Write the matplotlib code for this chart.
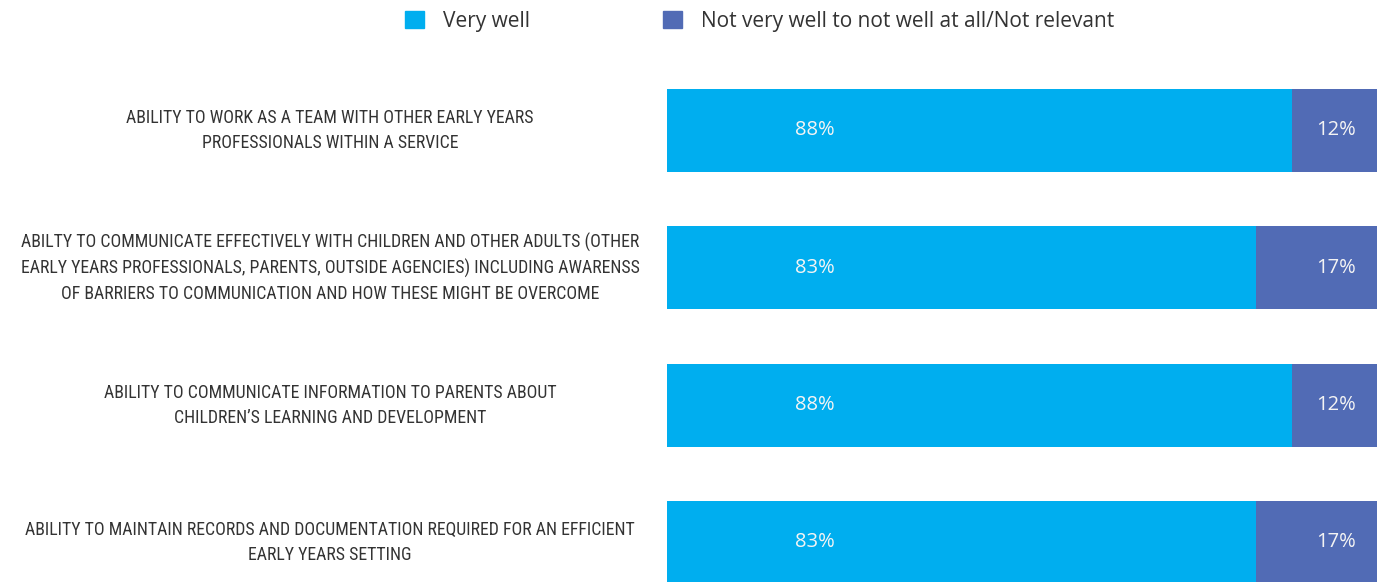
import matplotlib.pyplot as plt
from matplotlib.patches import Patch
from matplotlib.transforms import blended_transform_factory

categories = [
    "ABILITY TO WORK AS A TEAM WITH OTHER EARLY YEARS\nPROFESSIONALS WITHIN A SERVICE",
    "ABILTY TO COMMUNICATE EFFECTIVELY WITH CHILDREN AND OTHER ADULTS (OTHER\n"
    "EARLY YEARS PROFESSIONALS, PARENTS, OUTSIDE AGENCIES) INCLUDING AWARENSS\n"
    "OF BARRIERS TO COMMUNICATION AND HOW THESE MIGHT BE OVERCOME",
    "ABILITY TO COMMUNICATE INFORMATION TO PARENTS ABOUT\nCHILDREN\u2019S LEARNING AND DEVELOPMENT",
    "ABILITY TO MAINTAIN RECORDS AND DOCUMENTATION REQUIRED FOR AN EFFICIENT\nEARLY YEARS SETTING",
]
very_well = [88, 83, 88, 83]
not_well = [12, 17, 12, 17]
series_names = ["Very well", "Not very well to not well at all/Not relevant"]

c_light = "#00AEEF"
c_dark = "#516BB5"

W, H = 1381, 582
fig = plt.figure(figsize=(W / 100, H / 100), dpi=100)
ax = fig.add_axes([667 / W, 0, 710 / W, 1])

y = list(range(len(categories)))
ax.barh(y, very_well, height=0.605, color=c_light)
ax.barh(y, not_well, left=very_well, height=0.605, color=c_dark)

ax.set_xlim(0, 100)
ax.set_ylim(3.288, -0.950)
ax.axis("off")

val_font = dict(family=["Open Sans", "DejaVu Sans"], fontsize=14.5, color="#F4F4F4",
                ha="center", va="center")
for i in y:
    ax.text(20.8, i, f"{very_well[i]}%", **val_font)
    ax.text(94.2, i, f"{not_well[i]}%", **val_font)

# category labels centred in the space left of the bars
trans = blended_transform_factory(ax.transAxes, ax.transData)
for i, label in enumerate(categories):
    ax.text((330 - 667) / 710, i, label, transform=trans, ha="center", va="center",
            multialignment="center", fontsize=12.8, linespacing=1.5, color="#333333",
            family=["Roboto Condensed", "Liberation Sans Narrow", "Lato", "DejaVu Sans"])

handles = [Patch(color=c_light), Patch(color=c_dark)]
fig.legend(handles, series_names, loc="center left", bbox_to_anchor=(405 / W, 1 - 21 / H),
           ncol=2, frameon=False, handlelength=0.92, handleheight=0.92,
           handletextpad=0.9, columnspacing=6.4, borderpad=0, borderaxespad=0,
           prop={"family": ["Open Sans", "DejaVu Sans"], "size": 15})
for t in fig.legends[0].get_texts():
    t.set_color("#333333")

fig.savefig("out.png", dpi=100)
